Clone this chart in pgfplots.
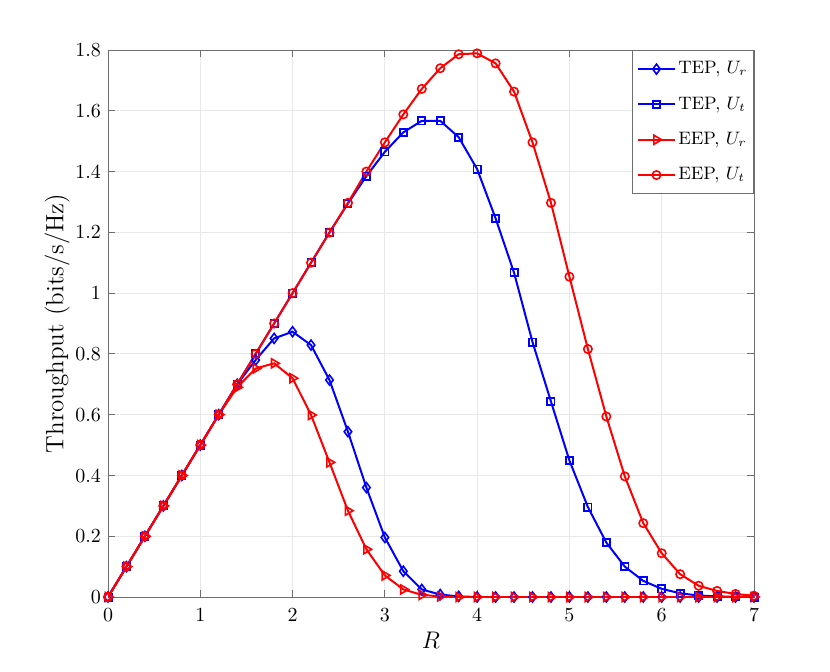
\documentclass[border=0pt]{standalone}
\usepackage{pgfplots}
\pgfplotsset{compat=1.18}
\definecolor{gridc}{RGB}{232,232,232}
\definecolor{axc}{RGB}{110,110,110}
\pgfplotstableread{
x tepur teput eepur eeput
0.0 0     0     0     0
0.2 0.1   0.1   0.1   0.1
0.4 0.2   0.2   0.2   0.2
0.6 0.3   0.3   0.3   0.3
0.8 0.4   0.4   0.4   0.4
1.0 0.5   0.5   0.5   0.5
1.2 0.6   0.6   0.6   0.6
1.4 0.7   0.7   0.69  0.7
1.6 0.78  0.8   0.752 0.8
1.8 0.851 0.9   0.769 0.9
2.0 0.873 1.0   0.72  1.0
2.2 0.829 1.1   0.599 1.1
2.4 0.714 1.2   0.443 1.199
2.6 0.544 1.295 0.284 1.297
2.8 0.360 1.385 0.157 1.40
3.0 0.196 1.465 0.071 1.496
3.2 0.085 1.529 0.025 1.588
3.4 0.025 1.567 0.007 1.672
3.6 0.008 1.567 0.002 1.74
3.8 0.002 1.513 0     1.786
4.0 0     1.408 0     1.789
4.2 0     1.246 0     1.756
4.4 0     1.067 0     1.663
4.6 0     0.839 0     1.496
4.8 0     0.643 0     1.297
5.0 0     0.449 0     1.054
5.2 0     0.296 0     0.816
5.4 0     0.179 0     0.594
5.6 0     0.100 0     0.397
5.8 0     0.053 0     0.243
6.0 0     0.027 0     0.144
6.2 0     0.012 0     0.075
6.4 0     0.005 0     0.037
6.6 0     0.002 0     0.020
6.8 0     0.001 0     0.010
7.0 0     0     0     0.004
}\data
\begin{document}
\begin{tikzpicture}
\useasboundingbox (0,0) rectangle (415pt,335.5pt);
\begin{axis}[
  at={(54pt,37pt)}, anchor=south west,
  scale only axis, width=323pt, height=273.5pt,
  xmin=0, xmax=7, ymin=0, ymax=1.8,
  xtick={0,1,...,7},
  ytick={0,0.2,0.4,0.6,0.8,1,1.2,1.4,1.6,1.8},
  yticklabels={0,0.2,0.4,0.6,0.8,1,1.2,1.4,1.6,1.8},
  tick align=inside, tick pos=both,
  xticklabel pos=bottom, yticklabel pos=left,
  major tick length=3.5pt,
  tick style={axc, line width=0.4pt},
  axis line style={axc, line width=0.5pt},
  grid=major, major grid style={gridc, line width=0.5pt},
  xticklabel style={yshift=-2.5pt},
  xlabel={$R$}, ylabel={Throughput (bits/s/Hz)},
  label style={font=\fontsize{12.5}{15}\selectfont},
  xlabel style={yshift=2pt},
  ylabel style={yshift=-4pt},
  legend cell align=left,
  legend style={at={(1,1)}, anchor=north east, draw=axc, fill=white,
    font=\small, row sep=8pt, inner xsep=2pt, inner ysep=4.5pt, line width=0.5pt,
    nodes={inner sep=1pt}},
  legend image code/.code={\draw[mark repeat=2,mark phase=2] plot coordinates {(0cm,0cm) (0.33cm,0cm) (0.66cm,0cm)};},
  every axis plot/.append style={line width=1pt},
]
\addplot[blue, mark=diamond, mark size=2.5pt, mark options={solid, line width=0.8pt}] table[x=x,y=tepur] {\data};
\addlegendentry{TEP, $U_r$}
\addplot[blue, mark=square, mark size=1.8pt, mark options={solid, line width=0.9pt}] table[x=x,y=teput] {\data};
\addlegendentry{TEP, $U_t$}
\addplot[red, mark=triangle, mark size=2.6pt, mark options={solid, rotate=-90, line width=0.8pt}] table[x=x,y=eepur] {\data};
\addlegendentry{EEP, $U_r$}
\addplot[red, mark=o, mark size=2.1pt, mark options={solid, line width=0.8pt}] table[x=x,y=eeput] {\data};
\addlegendentry{EEP, $U_t$}
\end{axis}
\end{tikzpicture}
\end{document}
